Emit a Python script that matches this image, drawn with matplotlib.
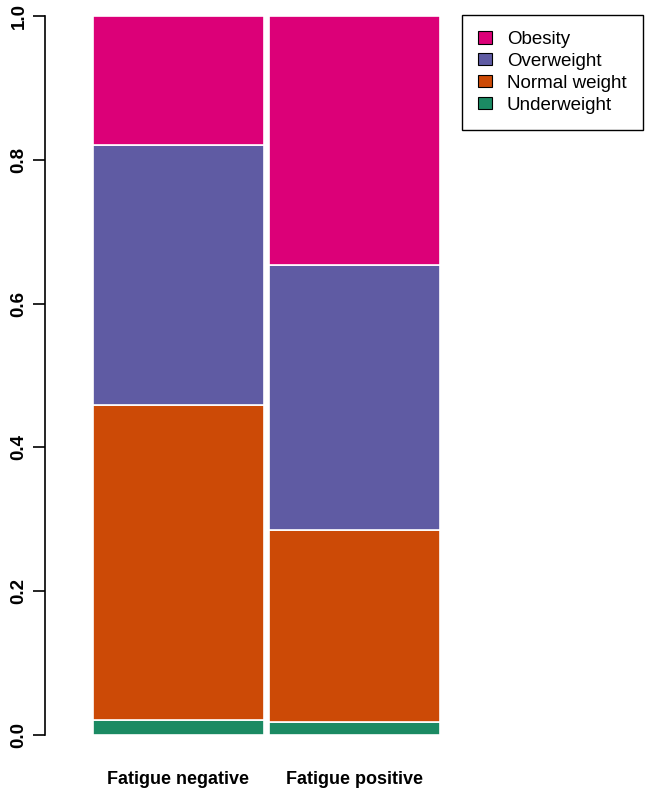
import numpy as np
import matplotlib.pyplot as plt

groups = ['Fatigue negative', 'Fatigue positive']
categories = ['Underweight', 'Normal weight', 'Overweight', 'Obesity']
underweight = [0.021, 0.018]
normal_weight = [0.438, 0.267]
overweight = [0.362, 0.369]
obesity = [0.179, 0.346]
colors = ['#1B8A63', '#CC4A06', '#5F5BA3', '#DC0078']

plt.rcParams['font.family'] = ['Liberation Sans', 'DejaVu Sans']

fig = plt.figure(figsize=(6.45, 7.9), dpi=100)
ax = fig.add_axes([45 / 645, 55 / 790, 600 / 645, 719 / 790])

x = np.arange(len(groups))
bottom = np.zeros(len(groups))
handles = []
for vals, col, name in zip([underweight, normal_weight, overweight, obesity], colors, categories):
    b = ax.bar(x, vals, bottom=bottom, width=0.972, color=col,
               edgecolor='white', linewidth=1.2, label=name)
    handles.append(b)
    bottom += np.array(vals)

ax.set_xlim(-0.756, 2.653)
ax.set_ylim(0, 1)
for s in ['top', 'right', 'bottom']:
    ax.spines[s].set_visible(False)
ax.spines['left'].set_bounds(0, 1)
ax.spines['left'].set_linewidth(1.2)
ax.set_yticks([0, 0.2, 0.4, 0.6, 0.8, 1.0])
ax.set_yticklabels(['0.0', '0.2', '0.4', '0.6', '0.8', '1.0'],
                   rotation=90, va='center', fontweight='bold', fontsize=13.5)
ax.tick_params(axis='y', length=8.5, width=1.2, pad=4)
ax.set_xticks(x)
ax.set_xticklabels(groups, fontweight='bold', fontsize=13)
ax.tick_params(axis='x', length=0, pad=26)

leg = ax.legend(handles[::-1], categories[::-1], loc='upper left',
                bbox_to_anchor=(462 / 645, 1 - 15 / 790), bbox_transform=fig.transFigure,
                fancybox=False, edgecolor='black', fontsize=13.5,
                handlelength=0.75, handleheight=0.65, labelspacing=0.26,
                borderpad=0.85, handletextpad=0.8, framealpha=1,
                borderaxespad=0)
leg.get_frame().set_linewidth(1.0)
for p in leg.get_patches():
    p.set_edgecolor('black')
    p.set_linewidth(0.8)

fig.savefig('out.png', dpi=100)
